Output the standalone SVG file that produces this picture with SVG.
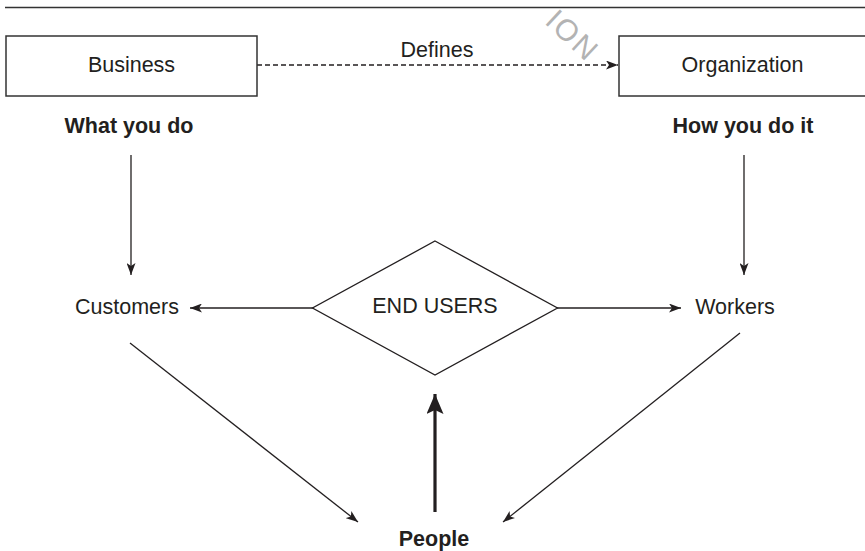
<svg xmlns="http://www.w3.org/2000/svg" width="865" height="551" viewBox="0 0 865 551">
<style>
  .txt { font-family: "Liberation Sans", Arial, sans-serif; font-size: 21.5px; fill: #231f20; text-anchor: middle; }
  .bold { font-weight: bold; }
  .box { fill: #ffffff; stroke: #333333; stroke-width: 1.5; }
  .ln { stroke: #231f20; stroke-width: 1.3; fill: none; }
  .arr { marker-end: url(#ah); }
</style>
<defs>
  <marker id="ah" markerUnits="userSpaceOnUse" markerWidth="12" markerHeight="9" refX="12" refY="4.5" orient="auto">
    <path d="M0,0 L12,4.5 L0,9 L3,4.5 z" fill="#231f20"/>
  </marker>
  <marker id="ahBig" markerUnits="userSpaceOnUse" markerWidth="20" markerHeight="17" refX="20" refY="8.5" orient="auto">
    <path d="M0,0 L20,8.5 L0,17 L4,8.5 z" fill="#231f20"/>
  </marker>
</defs>
<rect width="865" height="551" fill="#ffffff"/>
<line x1="5" y1="7.5" x2="865" y2="7.5" stroke="#333333" stroke-width="1.3"/>
<text class="txt" transform="translate(573,35) rotate(43)" y="11" style="fill:#b3b3b3;font-size:30px;letter-spacing:2px">ION</text>

<g id="connectors">
  <line class="ln arr" x1="257" y1="65" x2="618" y2="65" stroke-dasharray="5,3"/>
  <line class="ln arr" x1="131" y1="155" x2="131" y2="275"/>
  <line class="ln arr" x1="744" y1="155" x2="744" y2="275"/>
  <line class="ln arr" x1="313" y1="308" x2="190" y2="308"/>
  <line class="ln arr" x1="557" y1="308" x2="681" y2="308"/>
  <line class="ln arr" x1="130" y1="343" x2="358" y2="522"/>
  <line class="ln arr" x1="740" y1="333" x2="503" y2="522"/>
  <line x1="435" y1="512" x2="435" y2="394" stroke="#231f20" stroke-width="3.2" marker-end="url(#ahBig)"/>
  <text class="txt" x="437" y="57">Defines</text>
</g>

<g id="business">
  <rect class="box" x="6" y="36" width="251" height="60"/>
  <text class="txt" x="131.5" y="72">Business</text>
  <text class="txt bold" x="129" y="133">What you do</text>
</g>
<g id="organization">
  <rect class="box" x="619" y="36" width="260" height="60"/>
  <text class="txt" x="742.5" y="72">Organization</text>
  <text class="txt bold" x="743" y="133">How you do it</text>
</g>
<g id="customers">
  <text class="txt" x="127" y="314">Customers</text>
</g>
<g id="workers">
  <text class="txt" x="735" y="314">Workers</text>
</g>
<g id="endusers">
  <polygon points="435,241 557.5,308 435,375 312.5,308" fill="#ffffff" stroke="#231f20" stroke-width="1.3"/>
  <text class="txt" x="435" y="313">END USERS</text>
</g>
<g id="people">
  <text class="txt bold" x="434" y="546">People</text>
</g>
</svg>
